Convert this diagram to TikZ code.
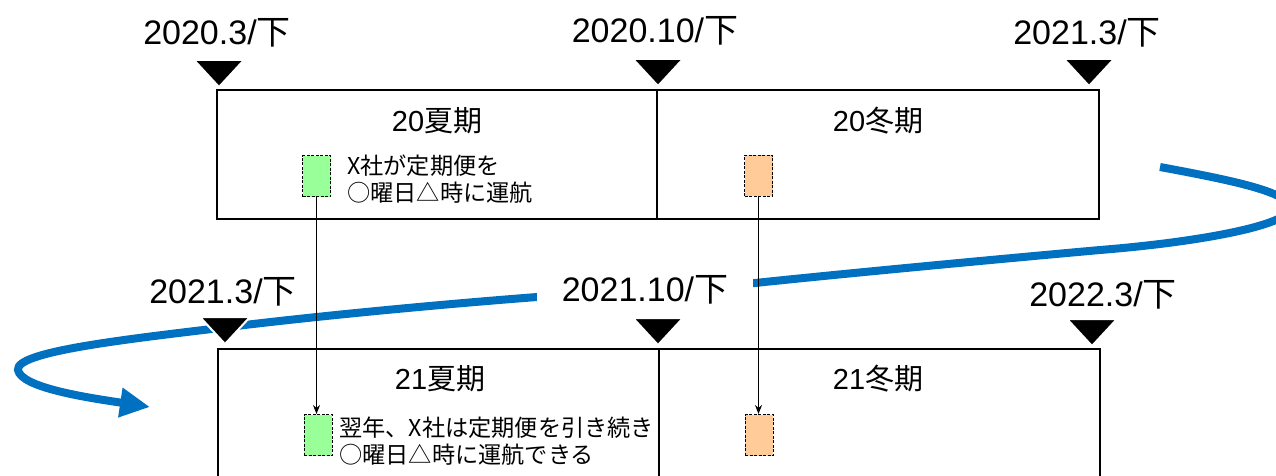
\documentclass[tikz,border=0pt]{standalone}
\usepackage{fontspec}
\setmainfont{Liberation Sans}
\newfontfamily\jp{Noto Sans CJK JP}
\usetikzlibrary{arrows.meta}
\definecolor{curveblue}{HTML}{0070C0}
\definecolor{lgreen}{HTML}{99FF99}
\definecolor{lorange}{HTML}{FFCC99}
\newcommand\datetext[1]{#1/{\jp 下}}
\begin{document}
\begin{tikzpicture}[x=1pt,y=-1pt,
  datelbl/.style={font=\fontsize{34}{37}\selectfont, anchor=base, inner sep=0pt},
  season/.style={font=\fontsize{29}{32}\selectfont, inner sep=0pt},
  frame/.style={draw=black, line width=2.5pt},
  marker/.style={fill=black, draw=white, line width=2pt, line join=miter},
  flow/.style={draw=curveblue, line width=8pt, -{Triangle[length=30pt,width=28pt]}},
  smallbox/.style={draw=black, dash pattern=on 3pt off 1.5pt, line width=1pt, minimum width=28pt, minimum height=41pt, inner sep=0pt},
  gbox/.style={smallbox, fill=lgreen},
  obox/.style={smallbox, fill=lorange},
  note/.style={font=\jp\fontsize{23.2}{27}\selectfont, align=left, anchor=west, inner sep=0pt},
  link/.style={draw=black, line width=1.3pt, -{Stealth[length=9pt,width=7pt]}}
]
\useasboundingbox (0,0) rectangle (1276,476);

% frames
\draw[frame] (217,90) rectangle (1099,219);
\draw[frame] (657,90) -- (657,219);
\draw[frame] (218,349) rectangle (1100,520);
\draw[frame] (659,349) -- (659,520);

% blue flow curve
\draw[flow] (1160,167) .. controls (1230,180) and (1290,192) .. (1290,208)
  .. controls (1290,225) and (1200,242) .. (1100,250)
  .. controls (1000,259) and (850,273) .. (755,283)
  -- (537,297)
  .. controls (420,306) and (300,318) .. (220,328)
  .. controls (120,340) and (15,352) .. (18,370)
  .. controls (21,388) and (90,398) .. (150,407);

% date labels
\node[datelbl] (d1) at (217,45) {\datetext{2020.3}};
\node[datelbl] (d2) at (655,43) {\datetext{2020.10}};
\node[datelbl] (d3) at (1087,45) {\datetext{2021.3}};
\node[datelbl] (d4) at (223,303) {\datetext{2021.3}};
\node[datelbl, fill=white, inner xsep=25pt, inner ysep=2pt, text height=24pt, text depth=8pt] (d5) at (645,301) {\datetext{2021.10}};
\node[datelbl] (d6) at (1103,306) {\datetext{2022.3}};

% markers
\filldraw[marker] (194,60) -- (244,60) -- (219,87) -- cycle;
\filldraw[marker] (633,59) -- (683,59) -- (658,86) -- cycle;
\filldraw[marker] (1064,59) -- (1114,59) -- (1089,86) -- cycle;
\filldraw[marker] (200,317) -- (250,317) -- (225,344) -- cycle;
\filldraw[marker] (633,318) -- (683,318) -- (658,345) -- cycle;
\filldraw[marker] (1067,319) -- (1117,319) -- (1092,346) -- cycle;

% season titles
\node[season] (s1) at (437,121) {20{\jp 夏期}};
\node[season] (s2) at (878,121) {20{\jp 冬期}};
\node[season] (s3) at (440,379) {21{\jp 夏期}};
\node[season] (s4) at (878,379) {21{\jp 冬期}};

% small boxes
\node[gbox] (g1) at (316.5,176) {};
\node[obox] (o1) at (758.5,175.5) {};
\node[gbox] (g2) at (318,435) {};
\node[obox] (o2) at (759,435) {};

% notes
\node[note] (n1) at (347,179.5) {X社が定期便を\\○曜日△時に運航};
\node[note] (n2) at (339,441) {翌年、X社は定期便を引き続き\\○曜日△時に運航できる};

% links
\draw[link] (g1.south) -- (g1.south |- g2.north);
\draw[link] (o1.south) -- (o1.south |- o2.north);
\end{tikzpicture}
\end{document}
